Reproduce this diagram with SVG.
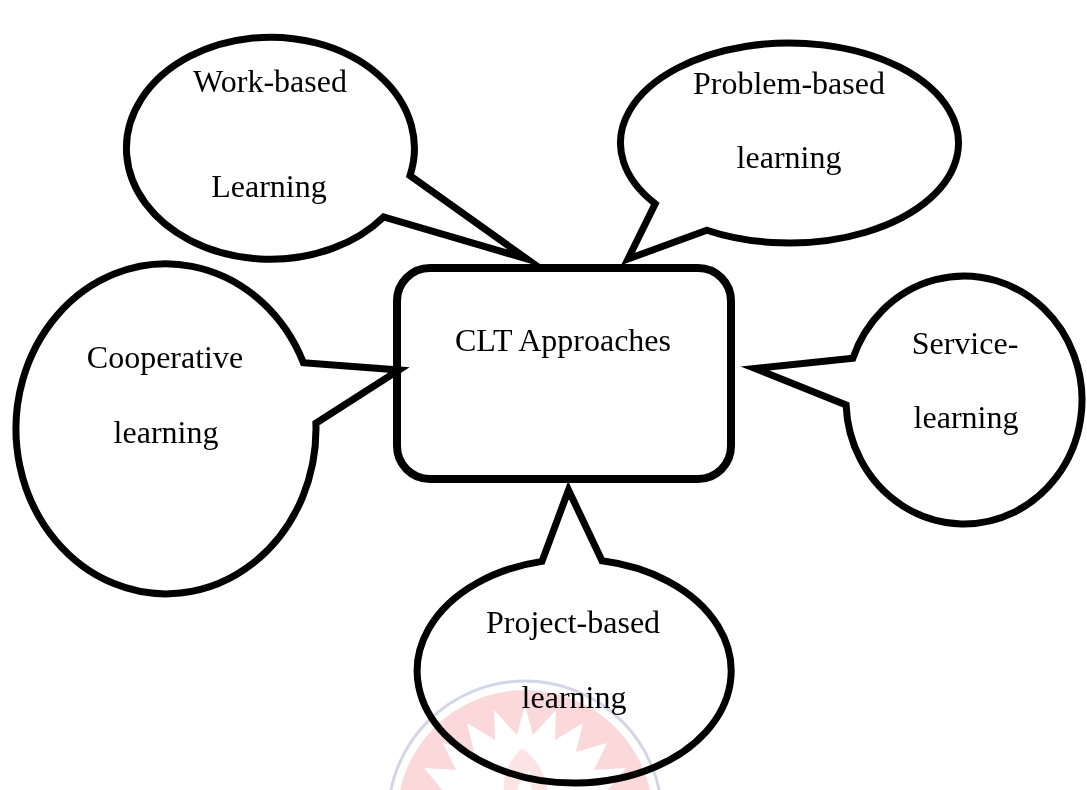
<svg xmlns="http://www.w3.org/2000/svg" width="1087" height="790" viewBox="0 0 1087 790">
  <style>
    .bubble { fill: #ffffff; stroke: #000000; stroke-width: 7; stroke-linejoin: miter; stroke-miterlimit: 12; }
    .hub { fill: #ffffff; stroke: #000000; stroke-width: 8; }
    .label { font-family: "Liberation Serif", "Times New Roman", serif; font-size: 32px; fill: #000000; text-anchor: middle; }
  </style>

  <rect x="0" y="0" width="1087" height="790" fill="#ffffff"/>

  <!-- central box -->
  <g id="clt-approaches">
    <rect class="hub" x="397" y="268" width="334" height="211" rx="33" ry="33"/>
    <text class="label" x="563" y="351">CLT Approaches</text>
  </g>

  <!-- speech-bubble callouts, each tail pointing at the central box -->
  <g id="work-based">
    <path class="bubble" d="M 410 175.6 L 527 259 L 383.6 216.9 A 144 111 0 1 1 410 175.6 Z"/>
    <text class="label" x="270" y="92">Work-based</text>
    <text class="label" x="269" y="197">Learning</text>
  </g>

  <g id="problem-based">
    <path class="bubble" d="M 706.8 230.2 L 628 259 L 655.2 203.7 A 169 100 0 1 1 706.8 230.2 Z"/>
    <text class="label" x="789" y="94">Problem-based</text>
    <text class="label" x="789" y="168">learning</text>
  </g>

  <g id="cooperative">
    <path class="bubble" d="M 303.4 362.7 L 399 370 L 315.9 423.2 A 150 165 0 1 1 303.4 362.7 Z"/>
    <text class="label" x="165" y="368">Cooperative</text>
    <text class="label" x="166" y="443">learning</text>
  </g>

  <g id="service-learning">
    <path class="bubble" d="M 852.9 358.2 L 755 368.4 L 846.1 405 A 118 124 0 1 0 852.9 358.2 Z"/>
    <text class="label" x="965" y="354">Service-</text>
    <text class="label" x="966" y="428">learning</text>
  </g>

  <g id="project-based">
    <path class="bubble" d="M 542 561.4 L 568.5 490 L 602 560.8 A 157 112 0 1 1 542 561.4 Z"/>
    <text class="label" x="573" y="633">Project-based</text>
    <text class="label" x="574" y="708">learning</text>
  </g>

  <!-- faint seal printed across the lower edge -->
  <g id="seal" style="mix-blend-mode:multiply">
    <circle cx="525" cy="818" r="137" fill="none" stroke="#d3d6e6" stroke-width="3"/>
    <circle cx="525" cy="818" r="128" fill="#fbd8da"/>
    <polygon fill="#ffffff" points="525,705 533,735 556,710 555,740 583,723 576,752 607,743 594,770 626,768 606,792 640,798 612,815 641,830 410,830 439,815 411,798 444,792 424,768 456,770 443,743 474,752 467,723 495,740 494,710 517,735"/>
    <path d="M 522 748 C 500 770 498 795 515 815 C 512 795 520 780 530 770 C 528 785 535 800 545 812 C 552 790 545 765 522 748 Z" fill="#fce4e5"/>
  </g>
</svg>
